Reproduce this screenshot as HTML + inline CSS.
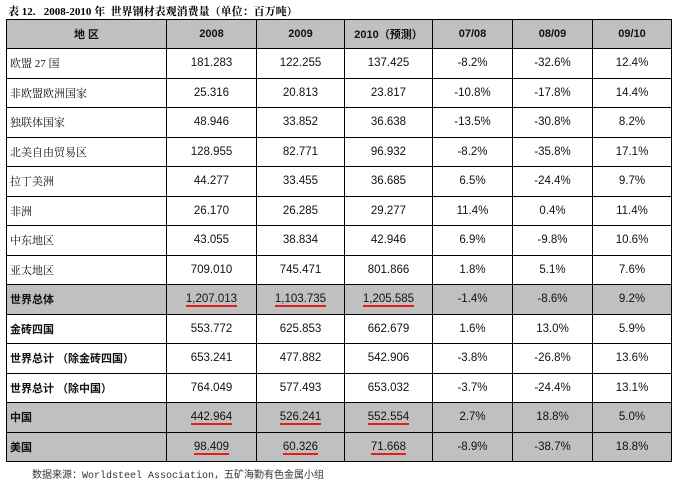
<!DOCTYPE html>
<html><head><meta charset="utf-8">
<style>
body{margin:0;width:680px;height:482px;background:#fff;position:relative;overflow:hidden;font-family:"Liberation Sans","Noto Sans CJK SC",sans-serif;}
#title{position:absolute;left:8px;top:3px;font:bold 11px "Liberation Serif","Noto Serif CJK SC",serif;color:#000;white-space:nowrap;}
table{position:absolute;left:6px;top:19px;border-collapse:collapse;table-layout:fixed;}
td,th{border:1px solid #000;font-size:11.5px;color:#111;padding:0;height:28.5px;text-align:center;}
th{background:#c0c0c0;font-weight:bold;height:28px;font-size:11px;}
td.l{text-align:left;padding-left:3px;font-size:11px;font-family:"Liberation Serif","Noto Serif CJK SC",serif;}
tr.b td.l{font-family:"Liberation Sans","Noto Sans CJK SC",sans-serif;font-weight:600;}
tr.g td{background:#c0c0c0;}
u{text-decoration:none;border-bottom:2px solid #e02020;padding-bottom:0;}
#src{position:absolute;left:32px;top:466px;font-size:10px;font-family:"Liberation Mono","Noto Sans CJK SC",monospace;color:#333;white-space:nowrap;}
</style></head><body>
<div id="title">表 12.&nbsp;&nbsp; 2008-2010 年&nbsp; 世界钢材表观消费量（单位：百万吨）</div>
<table>
<colgroup><col style="width:160px"><col style="width:90px"><col style="width:88px"><col style="width:88px"><col style="width:80px"><col style="width:80px"><col style="width:79px"></colgroup>
<tr><th>地 区</th><th>2008</th><th>2009</th><th>2010（预测）</th><th>07/08</th><th>08/09</th><th>09/10</th></tr>
<tr><td class="l">欧盟 27 国</td><td>181.283</td><td>122.255</td><td>137.425</td><td>-8.2%</td><td>-32.6%</td><td>12.4%</td></tr>
<tr><td class="l">非欧盟欧洲国家</td><td>25.316</td><td>20.813</td><td>23.817</td><td>-10.8%</td><td>-17.8%</td><td>14.4%</td></tr>
<tr><td class="l">独联体国家</td><td>48.946</td><td>33.852</td><td>36.638</td><td>-13.5%</td><td>-30.8%</td><td>8.2%</td></tr>
<tr><td class="l">北美自由贸易区</td><td>128.955</td><td>82.771</td><td>96.932</td><td>-8.2%</td><td>-35.8%</td><td>17.1%</td></tr>
<tr><td class="l">拉丁美洲</td><td>44.277</td><td>33.455</td><td>36.685</td><td>6.5%</td><td>-24.4%</td><td>9.7%</td></tr>
<tr><td class="l">非洲</td><td>26.170</td><td>26.285</td><td>29.277</td><td>11.4%</td><td>0.4%</td><td>11.4%</td></tr>
<tr><td class="l">中东地区</td><td>43.055</td><td>38.834</td><td>42.946</td><td>6.9%</td><td>-9.8%</td><td>10.6%</td></tr>
<tr><td class="l">亚太地区</td><td>709.010</td><td>745.471</td><td>801.866</td><td>1.8%</td><td>5.1%</td><td>7.6%</td></tr>
<tr class="b g"><td class="l">世界总体</td><td><u>1,207.013</u></td><td><u>1,103.735</u></td><td><u>1,205.585</u></td><td>-1.4%</td><td>-8.6%</td><td>9.2%</td></tr>
<tr class="b"><td class="l">金砖四国</td><td>553.772</td><td>625.853</td><td>662.679</td><td>1.6%</td><td>13.0%</td><td>5.9%</td></tr>
<tr class="b"><td class="l">世界总计 （除金砖四国）</td><td>653.241</td><td>477.882</td><td>542.906</td><td>-3.8%</td><td>-26.8%</td><td>13.6%</td></tr>
<tr class="b"><td class="l">世界总计 （除中国）</td><td>764.049</td><td>577.493</td><td>653.032</td><td>-3.7%</td><td>-24.4%</td><td>13.1%</td></tr>
<tr class="b g"><td class="l">中国</td><td><u>442.964</u></td><td><u>526.241</u></td><td><u>552.554</u></td><td>2.7%</td><td>18.8%</td><td>5.0%</td></tr>
<tr class="b g"><td class="l">美国</td><td><u>98.409</u></td><td><u>60.326</u></td><td><u>71.668</u></td><td>-8.9%</td><td>-38.7%</td><td>18.8%</td></tr>
</table>
<div id="src">数据来源：Worldsteel Association，五矿海勤有色金属小组</div>
</body></html>
